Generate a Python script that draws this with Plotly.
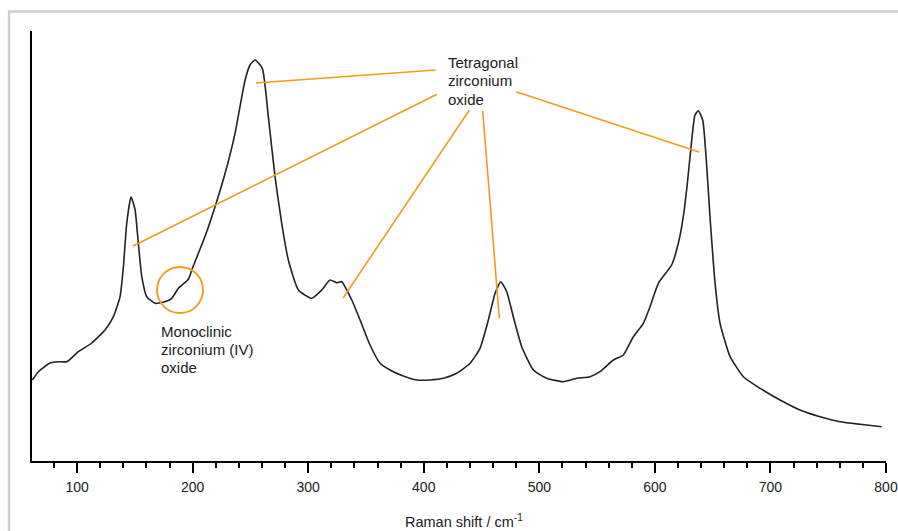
import plotly.graph_objects as go

# Raman spectrum (wavenumber / cm^-1, intensity in arbitrary units)
raman_shift = [61.3, 66.5, 76.6, 83.8, 91.1, 101.1, 112.7, 124.2, 131.4, 137.2,
               140.1, 143.0, 146.7, 150.2, 153.0, 156.0, 160.3, 167.5, 176.1, 181.9,
               187.7, 196.3, 199.2, 205.0, 212.2, 219.4, 228.1, 236.7, 245.4, 249.7,
               254.0, 260.3, 265.5, 271.3, 277.1, 282.8, 291.5, 303.1, 311.7, 318.9,
               324.7, 329.0, 337.7, 344.9, 353.5, 362.2, 370.8, 382.3, 393.9, 405.4,
               417.0, 428.5, 440.1, 448.7, 455.9, 461.7, 466.6, 471.8, 477.5, 484.8,
               494.8, 506.4, 520.8, 532.4, 543.9, 552.5, 564.1, 572.7, 581.4, 590.0,
               595.8, 603.0, 614.5, 620.3, 624.6, 628.1, 631.9, 634.7, 637.6, 641.4,
               644.3, 647.7, 652.1, 656.4, 665.1, 676.6, 691.0, 708.3, 725.6, 742.9,
               760.2, 777.5, 796.3]
intensity = [81, 89.3, 98, 99.3, 99.3, 109.3, 118, 131, 144.3, 164.3,
             194.3, 238, 264.3, 251, 218, 184.3, 164.3, 157.7, 159.3, 162.7,
             172.7, 181.7, 191, 207.7, 229.3, 254.3, 287.7, 327.7, 381, 396,
             401, 392.7, 344.3, 284.3, 237.7, 201, 171, 162.7, 171, 181,
             178.3, 179.3, 161, 141, 116, 97.7, 91, 85, 81, 81,
             82.7, 87.7, 97.7, 112.7, 141, 167.7, 179.3, 169.3, 144.3, 114.3,
             91, 82.7, 79.3, 82.7, 84.3, 89.3, 101, 106, 124.3, 137.7,
             154.3, 177.7, 196, 217.7, 244.3, 277.7, 321, 346, 350.3, 341,
             304.3, 244.3, 177.7, 137.7, 104.3, 84.3, 72.7, 61, 51, 44.3,
             39.3, 36.7, 34.3]

x_ticks = [100, 200, 300, 400, 500, 600, 700, 800]
x_tick_labels = ["100", "200", "300", "400", "500", "600", "700", "800"]

# Leader lines for the "Tetragonal zirconium oxide" label: (peak end, label end)
tetra_x0 = [254.9, 148.5, 330.2, 465.4, 638.2]
tetra_y0 = [378, 215, 163, 142.7, 309]
tetra_x1 = [410.4, 411.5, 439.5, 451.0, 479.9]
tetra_y1 = [391, 366.7, 351, 350.3, 369.3]

tetra_lines = ["Tetragonal", "zirconium", "oxide"]
mono_lines = ["Monoclinic", "zirconium (IV)", "oxide"]

ORANGE = "#F39A1E"
INK = "#222222"
FONT = "Liberation Sans, Arial, sans-serif"

fig = go.Figure()
fig.add_trace(go.Scatter(x=raman_shift, y=intensity, mode="lines",
                         line=dict(color=INK, width=1.6, shape="spline", smoothing=0.5),
                         hoverinfo="skip", showlegend=False))

shapes = []
for a, b, c, d in zip(tetra_x0, tetra_y0, tetra_x1, tetra_y1):
    shapes.append(dict(type="line", xref="x", yref="y", x0=a, y0=b, x1=c, y1=d,
                       line=dict(color=ORANGE, width=1.6)))
# circle around monoclinic shoulder
shapes.append(dict(type="circle", xref="x", yref="y", x0=169.2, x1=209.0,
                   y0=148, y1=194, line=dict(color=ORANGE, width=1.8)))
# grey frame
shapes.append(dict(type="rect", xref="paper", yref="paper", x0=-0.0269, x1=1.2,
                   y0=-0.3, y1=1.0453, line=dict(color="#cfcfcf", width=2.5),
                   layer="below"))

annotations = []
for i, t in enumerate(tetra_lines):
    annotations.append(dict(text=t, x=419.5, y=398.5 - 18.3 * i, xref="x", yref="y",
                            xanchor="left", yanchor="middle", showarrow=False,
                            font=dict(family=FONT, size=15, color=INK)))
for i, t in enumerate(mono_lines):
    annotations.append(dict(text=t, x=171.0, y=129.5 - 18.2 * i, xref="x", yref="y",
                            xanchor="left", yanchor="middle", showarrow=False,
                            font=dict(family=FONT, size=15, color=INK)))
annotations.append(dict(text="Raman shift / cm<sup>-1</sup>", x=0.5064, y=-0.1395,
                        xref="paper", yref="paper", xanchor="center", yanchor="middle",
                        showarrow=False, font=dict(family=FONT, size=14.5, color=INK)))

fig.update_layout(
    width=898, height=531,
    margin=dict(l=32, r=12, t=31, b=70, autoexpand=False),
    paper_bgcolor="white", plot_bgcolor="white",
    font=dict(family=FONT, size=14, color=INK),
    shapes=shapes, annotations=annotations,
    xaxis=dict(range=[61, 800], showgrid=False, zeroline=False, automargin=False,
               showline=True, linecolor="black", linewidth=2,
               ticks="outside", ticklen=10, tickwidth=2, tickcolor="black",
               tickvals=x_ticks, ticktext=x_tick_labels, ticklabelstandoff=2,
               tickfont=dict(family=FONT, size=14, color=INK),
               minor=dict(dtick=20, tick0=0, ticks="outside", ticklen=5,
                          tickwidth=2, tickcolor="black", showgrid=False)),
    yaxis=dict(range=[0, 430], showgrid=False, zeroline=False, automargin=False,
               showline=True, linecolor="black", linewidth=2,
               showticklabels=False, ticks=""),
)

fig.write_html(
    "out.html",
    config={"displayModeBar": False},
    post_script="document.body.style.margin='0';"
                "document.documentElement.style.overflow='hidden';"
                "document.body.style.overflow='hidden';",
)
